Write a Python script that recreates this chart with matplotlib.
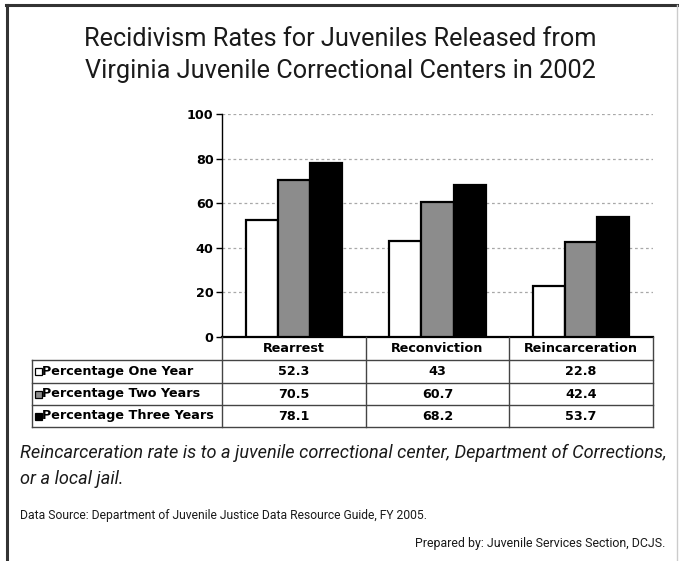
import matplotlib
matplotlib.use("Agg")
import matplotlib.pyplot as plt
from matplotlib.patches import Rectangle
from matplotlib.lines import Line2D
import numpy as np

# data
categories = ["Rearrest", "Reconviction", "Reincarceration"]
series_names = ["Percentage One Year", "Percentage Two Years", "Percentage Three Years"]
one_year = [52.3, 43, 22.8]
two_years = [70.5, 60.7, 42.4]
three_years = [78.1, 68.2, 53.7]
series_values = [one_year, two_years, three_years]
series_colors = ["white", "#8c8c8c", "black"]
y_ticks = [0, 20, 40, 60, 80, 100]

title = "Recidivism Rates for Juveniles Released from\nVirginia Juvenile Correctional Centers in 2002"
note = "Reincarceration rate is to a juvenile correctional center, Department of Corrections,\nor a local jail."
source = "Data Source: Department of Juvenile Justice Data Resource Guide, FY 2005."
prepared = "Prepared by: Juvenile Services Section, DCJS."

W, H = 679, 561
COND = ["Roboto", "DejaVu Sans"]
BOLD = ["DejaVu Sans"]
FS = 9.2

fig = plt.figure(figsize=(W / 100, H / 100), dpi=100)


def fx(px):
    return px / W


def fy(py):
    return 1 - py / H


# plot area in pixels
ax_l, ax_r, ax_t, ax_b = 222, 653, 114, 337
ax = fig.add_axes([fx(ax_l), fy(ax_b), fx(ax_r - ax_l), (ax_b - ax_t) / H])

x = np.arange(len(categories))
bw = 0.223
for i, (vals, col) in enumerate(zip(series_values, series_colors)):
    ax.bar(x + (i - 1) * bw, vals, bw, color=col, edgecolor="black",
           linewidth=1.6, zorder=3)

ax.set_xlim(-0.5, len(categories) - 0.5)
ax.set_ylim(0, 100)
ax.set_yticks(y_ticks)
ax.set_yticklabels([str(t) for t in y_ticks], fontsize=FS, fontweight="bold",
                   family=BOLD)
ax.set_xticks([])
for t in y_ticks[1:]:
    ax.axhline(t, color="#a8a8a8", linestyle=(0, (2.2, 2.2)), linewidth=0.9, zorder=1)
ax.spines["top"].set_visible(False)
ax.spines["right"].set_visible(False)
ax.spines["left"].set_linewidth(1.0)
ax.spines["bottom"].set_linewidth(1.6)
ax.tick_params(axis="y", length=4, width=1, pad=2, direction="out")

# data table under the axis
col_edges = [32, 222, 366, 509, 653]
row_edges = [337, 360, 383, 405, 427]
line_kw = dict(color="#444444", linewidth=1.0, transform=fig.transFigure)
for yy in row_edges[1:]:
    fig.add_artist(Line2D([fx(col_edges[0]), fx(col_edges[-1])], [fy(yy), fy(yy)], **line_kw))
fig.add_artist(Line2D([fx(col_edges[0])] * 2, [fy(row_edges[1]), fy(row_edges[-1])], **line_kw))
for xx in col_edges[1:]:
    fig.add_artist(Line2D([fx(xx)] * 2, [fy(row_edges[0]), fy(row_edges[-1])], **line_kw))

for j, cat in enumerate(categories):
    cx = (col_edges[j + 1] + col_edges[j + 2]) / 2
    cy = (row_edges[0] + row_edges[1]) / 2
    fig.text(fx(cx), fy(cy), cat, ha="center", va="center", fontsize=FS,
             fontweight="bold", family=BOLD)

for i, (name, vals, col) in enumerate(zip(series_names, series_values, series_colors)):
    cy = (row_edges[i + 1] + row_edges[i + 2]) / 2
    fig.add_artist(Rectangle((fx(34.5), fy(cy + 3.5)), fx(7), 7 / H, facecolor=col,
                             edgecolor="black", linewidth=0.9, transform=fig.transFigure))
    fig.text(fx(42), fy(cy), name, ha="left", va="center", fontsize=FS,
             fontweight="bold", family=BOLD)
    for j, v in enumerate(vals):
        cx = (col_edges[j + 1] + col_edges[j + 2]) / 2
        fig.text(fx(cx), fy(cy), f"{v:g}", ha="center", va="center", fontsize=FS,
                 fontweight="bold", family=BOLD)

# titles and notes
fig.text(fx(340), fy(55), title, ha="center", va="center", fontsize=18.2,
         family=COND, linespacing=1.45, color="#1a1a1a")
fig.text(fx(20), fy(466), note, ha="left", va="center", fontsize=13.1,
         family=COND, style="italic", linespacing=1.55, color="#1a1a1a")
fig.text(fx(20), fy(516), source, ha="left", va="center", fontsize=8.75,
         family=COND, color="#1a1a1a")
fig.text(fx(665), fy(543), prepared, ha="right", va="center", fontsize=8.9,
         family=COND, color="#1a1a1a")

# outer frame
fig.add_artist(Line2D([fx(6), 1], [fy(5), fy(5)], color="#333333", linewidth=2.2,
                      transform=fig.transFigure))
fig.add_artist(Line2D([fx(7), fx(7)], [fy(5), 0], color="#333333", linewidth=2.2,
                      transform=fig.transFigure))
fig.add_artist(Line2D([fx(677), fx(677)], [fy(5), 0], color="#cccccc", linewidth=1.0,
                      transform=fig.transFigure))

fig.savefig("out.png", dpi=100)
